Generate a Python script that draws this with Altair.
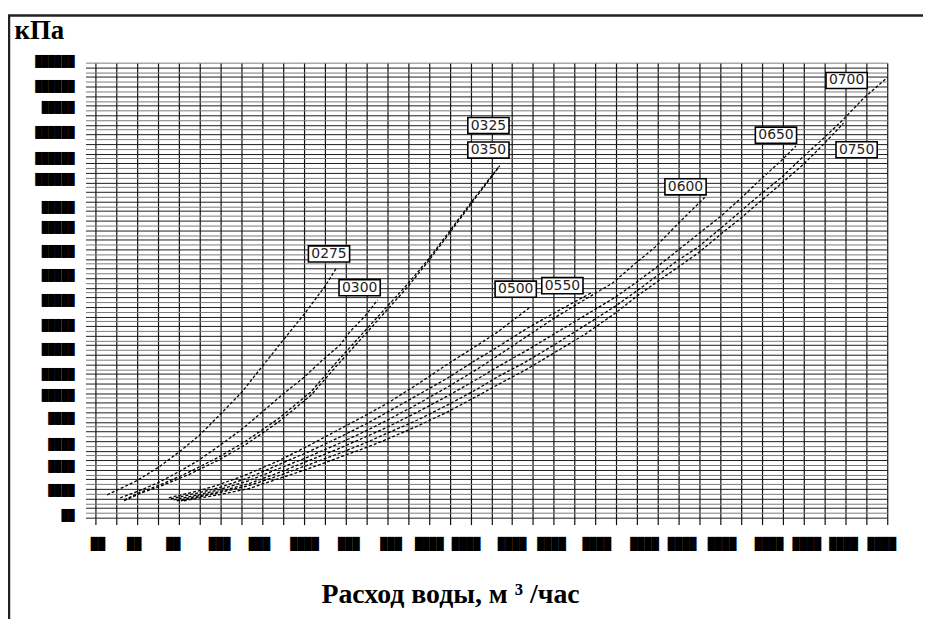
import altair as alt
import pandas as pd

# ---- axes (grid units; real tick values are blacked out in the source) ----
x_grid = list(range(0, 39))
y_grid = list(range(0, 96))

y_label_pos = [95.2, 90.0, 85.5, 80.3, 74.9, 70.5, 64.7, 60.4, 55.4, 50.4,
               45.2, 40.0, 34.9, 29.7, 25.5, 20.5, 15.1, 10.6, 5.6, 0.4]
y_label_text = ["██████", "██████", "█████", "██████", "██████", "██████",
                "█████", "█████", "█████", "█████", "█████", "█████", "█████",
                "█████", "█████", "████", "████", "████", "████", "██"]

x_label_pos = [0.12, 1.86, 3.74, 5.96, 7.87, 10.04, 12.16, 14.19, 16.02, 17.79,
               20.0, 21.89, 24.06, 26.35, 28.16, 30.07, 32.33, 34.14, 35.91, 37.74]
x_label_text = ["██", "██", "██", "███", "███", "████", "███", "███", "████", "████",
                "████", "████", "████", "████", "████", "████", "████", "████", "████", "████"]

# ---- curves ----
d0275_x = [0.57, 2.0, 3.05, 4.01, 4.96, 5.91, 7.01, 8.77, 10.05, 11.0, 11.55]
d0275_y = [4.77, 7.74, 10.58, 13.69, 17.07, 21.22, 26.14, 35.75, 42.68, 48.2, 52.01]

d0300_x = [1.19, 2.10, 3.05, 4.01, 4.96, 5.91, 7.01, 7.96, 8.92, 10.01, 10.92, 11.73, 12.21, 12.92, 13.54]
d0300_y = [4.15, 5.6, 7.4, 9.6, 12.0, 14.9, 18.4, 21.9, 25.5, 29.3, 33.0, 36.0, 38.8, 42.0, 45.44]

d0325_x = [1.38, 2.10, 3.19, 4.48, 5.90, 7.19, 8.76, 10.33, 11.62, 12.89, 14.0, 14.95, 15.99, 17.01, 18.13, 19.40]
d0325_y = [3.7, 5.2, 7.0, 9.5, 12.6, 15.9, 20.6, 26.2, 32.7, 38.8, 44.1, 48.6, 54.0, 59.9, 66.4, 73.5]

d0350_x = [1.38, 2.10, 3.19, 4.48, 5.90, 7.19, 8.76, 10.33, 11.62, 12.89, 14.0, 14.95, 15.99, 17.01, 18.13, 19.40]
d0350_y = [3.53, 4.98, 6.7, 9.0, 12.0, 15.2, 19.9, 25.5, 31.9, 38.0, 43.4, 48.0, 53.6, 59.5, 66.1, 73.44]

d0500_x = [3.52, 4.95, 5.90, 7.33, 8.76, 10.19, 11.62, 13.05, 14.0, 15.43, 16.86, 18.29, 19.24, 20.81]
d0500_y = [4.15, 5.6, 6.84, 9.13, 11.82, 14.93, 18.25, 21.57, 23.85, 27.79, 31.94, 35.88, 38.58, 43.77]

d0550_x = [3.62, 4.95, 5.90, 7.33, 8.76, 10.19, 11.62, 13.05, 14.0, 15.43, 16.86, 18.29, 19.24, 20.67, 22.1, 23.86]
d0550_y = [3.94, 5.19, 6.22, 8.30, 11.0, 13.69, 16.59, 19.71, 21.99, 25.51, 29.04, 32.98, 35.47, 39.41, 42.94, 47.09]

d0600_x = [3.76, 4.95, 5.90, 7.33, 8.76, 10.19, 11.62, 13.05, 14.0, 15.43, 16.86, 18.29, 19.24, 20.67,
           22.1, 24.0, 24.81, 25.9, 26.86, 27.95, 29.24]
d0600_y = [3.73, 4.77, 5.81, 7.67, 10.16, 12.65, 15.35, 18.25, 20.33, 23.65, 27.17, 30.91, 33.60, 37.75,
           41.90, 46.88, 48.95, 53.04, 56.48, 61.34, 66.85]

d0650_x = [3.90, 4.95, 5.90, 7.33, 8.76, 10.19, 11.62, 13.05, 14.0, 15.43, 16.86, 18.29, 19.24, 20.67,
           22.1, 23.53, 24.96, 25.9, 26.86, 27.95, 28.9, 30.05, 31.0, 31.95, 32.9, 33.62]
d0650_y = [3.53, 4.56, 5.39, 7.05, 9.33, 11.82, 14.31, 17.01, 18.88, 21.99, 25.31, 28.84, 31.32, 34.85,
           38.58, 42.31, 46.05, 48.95, 52.06, 55.80, 59.12, 63.06, 66.79, 70.73, 74.47, 77.58]

d0700_x = [4.10, 5.90, 7.33, 8.76, 10.19, 11.62, 13.05, 14.0, 15.43, 16.86, 18.29, 19.24, 20.67, 22.1,
           23.53, 24.96, 25.9, 26.86, 27.95, 28.9, 30.05, 31.0, 31.95, 32.9, 34.0, 34.95, 35.9, 36.86, 38.0]
d0700_y = [3.53, 5.19, 6.64, 8.71, 10.99, 13.28, 15.77, 17.63, 20.33, 23.44, 26.76, 29.25, 32.57, 36.30,
           40.24, 44.18, 47.09, 50.20, 53.72, 56.42, 60.57, 64.09, 67.62, 70.94, 75.50, 79.24, 83.18, 87.53, 91.89]

d0750_x = [4.24, 5.90, 7.33, 8.76, 10.19, 11.62, 13.05, 14.0, 15.43, 16.86, 18.29, 19.24, 20.67, 22.1,
           23.53, 24.96, 26.05, 26.86, 27.95, 28.9, 30.05, 31.0, 31.95, 32.9, 34.0, 34.95, 35.9]
d0750_y = [3.53, 4.77, 6.02, 8.09, 10.16, 12.45, 14.73, 16.39, 19.08, 21.99, 25.31, 27.59, 30.91, 34.64,
           38.37, 42.73, 46.46, 48.95, 52.27, 55.18, 59.32, 62.64, 66.17, 69.69, 73.84, 77.99, 82.35]

series_names = ["0275", "0300", "0325", "0350", "0500", "0550", "0600", "0650", "0700", "0750"]
series_x = [d0275_x, d0300_x, d0325_x, d0350_x, d0500_x, d0550_x, d0600_x, d0650_x, d0700_x, d0750_x]
series_y = [d0275_y, d0300_y, d0325_y, d0350_y, d0500_y, d0550_y, d0600_y, d0650_y, d0700_y, d0750_y]

# curve tag positions
tag_x = [11.21, 12.68, 18.86, 18.86, 20.17, 22.41, 28.32, 32.66, 36.05, 36.53]
tag_y = [55.07, 48.02, 81.87, 76.75, 47.71, 48.43, 69.07, 79.86, 91.27, 76.81]

# ---- tables ----
rows = []
for name, xs_, ys_ in zip(series_names, series_x, series_y):
    for i, (xv, yv) in enumerate(zip(xs_, ys_)):
        rows.append({"series": name, "q": xv, "p": yv, "order": i})
curves_df = pd.DataFrame(rows)
tags_df = pd.DataFrame({"series": series_names, "q": tag_x, "p": tag_y})
ylab_df = pd.DataFrame({"p": y_label_pos, "t": y_label_text})
xlab_df = pd.DataFrame({"q": x_label_pos, "t": x_label_text})

W, H = 797, 458
xs = alt.Scale(domain=[0, 38], nice=False, zero=False)
ys = alt.Scale(domain=[0, 95], nice=False, zero=False)

grid_axis_x = alt.Axis(values=x_grid, labels=False, domain=False, grid=True,
                       gridColor="#111", gridWidth=1.2, tickSize=7, tickColor="#111", tickWidth=1.2,
                       title="Расход воды, м ³ /час", titleFont="Liberation Serif",
                       titleFontSize=28, titleFontWeight="bold", titleColor="#000",
                       titleAlign="left", titleBaseline="alphabetic", titleX=227, titleY=85)
grid_axis_y = alt.Axis(values=y_grid, labels=False, domain=False, grid=True,
                       gridColor={"condition": {"test": "datum.value % 2 === 0", "value": "#1c1c1c"},
                                  "value": "#7a7a7a"},
                       tickColor={"condition": {"test": "datum.value % 2 === 0", "value": "#1c1c1c"},
                                  "value": "#7a7a7a"},
                       gridWidth=1, tickSize=10,
                       title="кПа", titleAngle=0, titleFont="Liberation Serif",
                       titleFontSize=27, titleFontWeight="bold", titleColor="#000",
                       titleAlign="left", titleBaseline="alphabetic", titleX=-82, titleY=-24)

X = lambda: alt.X("q:Q", scale=xs, axis=grid_axis_x)
Y = lambda: alt.Y("p:Q", scale=ys, axis=grid_axis_y)

frame = alt.Chart(pd.DataFrame({"k": [0]})).mark_rect(
    filled=False, stroke="#222", strokeWidth=2.5
).encode(x=alt.value(-87), x2=alt.value(900), y=alt.value(-47.5), y2=alt.value(620))

curves = alt.Chart(curves_df).mark_line(
    color="#000", strokeWidth=1.3, strokeDash=[3, 2]
).encode(x=X(), y=Y(), detail="series:N", order="order:Q")

boxes = alt.Chart(tags_df).mark_point(
    shape="M-2,-0.78H2V0.78H-2Z", size=430, filled=True, fill="white",
    stroke="#000", strokeWidth=1.6, opacity=1
).encode(x=X(), y=Y())

tag_text = alt.Chart(tags_df).mark_text(
    font="DejaVu Sans", fontSize=14, color="#222", align="center", baseline="middle"
).encode(x=X(), y=Y(), text="series:N")

ylabels = alt.Chart(ylab_df).mark_text(
    font="DejaVu Sans Mono", fontSize=11, color="#000", align="right", baseline="middle"
).encode(x=alt.value(-21), y=Y(), text="t:N")

xlabels = alt.Chart(xlab_df).mark_text(
    font="DejaVu Sans Mono", fontSize=12, color="#000", align="center", baseline="middle"
).encode(x=X(), y=alt.value(H + 27), text="t:N")

chart = alt.layer(frame, curves, boxes, tag_text, ylabels, xlabels).properties(
    width=W, height=H,
    padding={"left": 88, "top": 53, "right": 36, "bottom": 100},
    autosize=alt.AutoSizeParams(type="none"),
).configure_view(stroke=None)

chart.save("out.html", embed_options={"renderer": "svg", "actions": False})
